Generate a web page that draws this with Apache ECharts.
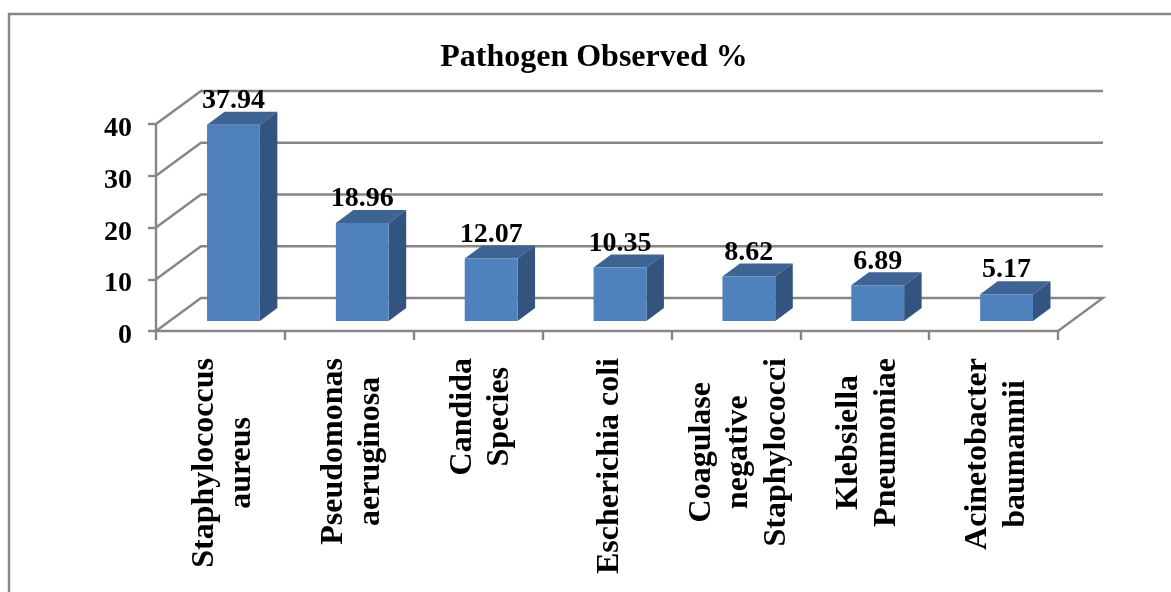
<!DOCTYPE html>
<html>
<head>
<meta charset="utf-8">
<style>html,body{margin:0;padding:0;background:#fff}#c{width:1171px;height:592px}</style>
<script src="https://cdn.jsdelivr.net/npm/echarts@6/dist/echarts.min.js"></script>
</head>
<body>
<div id="c"></div>
<script>
const categories = ['Staphylococcus\naureus','Pseudomonas\naeruginosa','Candida\nSpecies','Escherichia coli','Coagulase\nnegative\nStaphylococci','Klebsiella\nPneumoniae','Acinetobacter\nbaumannii'];
const observed = [37.94,18.96,12.07,10.35,8.62,6.89,5.17];
const valueTicks = [0,10,20,30,40];
const titleText = 'Pathogen Observed %';

const FONT = '"Liberation Serif","Times New Roman",serif';
const LINE = '#868686';
const WALL_DX = 45, WALL_DY = 33;      // depth of the chart box
const BAR_SHIFT_X = 13, BAR_SHIFT_Y = 10; // bars stand mid-depth on the floor
const BAR_DX = 17.5, BAR_DY = 13;      // depth of a bar
const LABEL_TOP = 358, LABEL_SIZE = 32;

const measure = document.createElement('canvas').getContext('2d');
measure.font = 'bold ' + LABEL_SIZE + 'px ' + FONT;

const chart = echarts.init(document.getElementById('c'), null, {renderer:'canvas'});

function renderWall(params, api){
  const v = api.value(0);
  const cs = params.coordSys;
  const y = api.coord([0, v])[1];
  const x0 = cs.x, x1 = cs.x + cs.width;
  const pts = [[x0,y],[x0+WALL_DX,y-WALL_DY],[x1+WALL_DX,y-WALL_DY]];
  if (v === 0) pts.push([x1,y]);
  return {type:'polyline', shape:{points:pts}, style:{stroke:LINE, lineWidth:2.4, fill:null}};
}
function renderBar(params, api){
  const i = api.value(0), v = api.value(1);
  const band = api.size([1,0])[0];
  const w = band * 0.41;
  const c = api.coord([i, v]);
  const base = api.coord([i, 0])[1] - BAR_SHIFT_Y;
  const top = c[1] - BAR_SHIFT_Y;
  const l = c[0] + BAR_SHIFT_X - w/2, r = l + w;
  return {type:'group', children:[
    {type:'polygon', shape:{points:[[l,top],[r,top],[r+BAR_DX,top-BAR_DY],[l+BAR_DX,top-BAR_DY]]}, style:{fill:'#3E6494'}},
    {type:'polygon', shape:{points:[[r,top],[r+BAR_DX,top-BAR_DY],[r+BAR_DX,base-BAR_DY],[r,base]]}, style:{fill:'#32547E'}},
    {type:'rect', shape:{x:l,y:top,width:w,height:base-top}, style:{fill:'#4F81BD'}},
    {type:'text', z2:10, style:{x:l+w/2, y:top-10, text:v.toFixed(2), align:'center', verticalAlign:'bottom',
      font:'bold 28px '+FONT, fill:'#000'}}
  ]};
}
function renderCategory(params, api){
  const i = api.value(0);
  const name = categories[i];
  const x = api.coord([i, 0])[0] + 3;
  const longest = Math.max(...name.split('\n').map(s => measure.measureText(s).width));
  return {type:'text', rotation:Math.PI/2, x:x, y:LABEL_TOP + longest/2,
    style:{x:0,y:0,text:name, align:'center', verticalAlign:'middle', lineHeight:37.5,
      font:'bold '+LABEL_SIZE+'px '+FONT, fill:'#000'}};
}

chart.setOption({
  animation:false,
  backgroundColor:'#fff',
  title:{text:titleText, left:589, textAlign:'center', top:37,
    textStyle:{fontFamily:FONT, fontWeight:'bold', fontSize:32, color:'#000'}},
  grid:{left:156, right:113, top:124, bottom:261},
  graphic:[{type:'polyline', z:-1, shape:{points:[[9,592],[9,14],[1171,14]]}, style:{stroke:LINE, lineWidth:2.4, fill:null}}],
  xAxis:{type:'category', data:categories, boundaryGap:true,
    axisLine:{show:true, onZero:true, lineStyle:{color:LINE, width:2.4}},
    axisTick:{show:true, length:9, alignWithLabel:false, lineStyle:{color:LINE, width:2.4}},
    axisLabel:{show:false}, splitLine:{show:false}},
  yAxis:{type:'value', min:0, max:40, interval:10,
    axisLine:{show:true, lineStyle:{color:LINE, width:2.4}},
    axisTick:{show:true, length:8, lineStyle:{color:LINE, width:2.4}},
    axisLabel:{fontFamily:FONT, fontWeight:'bold', fontSize:28, color:'#000', margin:24, verticalAlign:'top', lineHeight:10},
    splitLine:{show:false}},
  series:[
    {type:'custom', z:1, silent:true, clip:false, coordinateSystem:'cartesian2d', renderItem:renderWall,
      data:valueTicks.map(v=>[v]), encode:{y:0}},
    {type:'custom', z:3, silent:true, clip:false, coordinateSystem:'cartesian2d', renderItem:renderBar,
      data:observed.map((v,i)=>[i,v]), encode:{x:0,y:1}},
    {type:'custom', z:4, silent:true, clip:false, coordinateSystem:'cartesian2d', renderItem:renderCategory,
      data:categories.map((n,i)=>[i]), encode:{x:0}}
  ]
});
</script>
</body>
</html>
